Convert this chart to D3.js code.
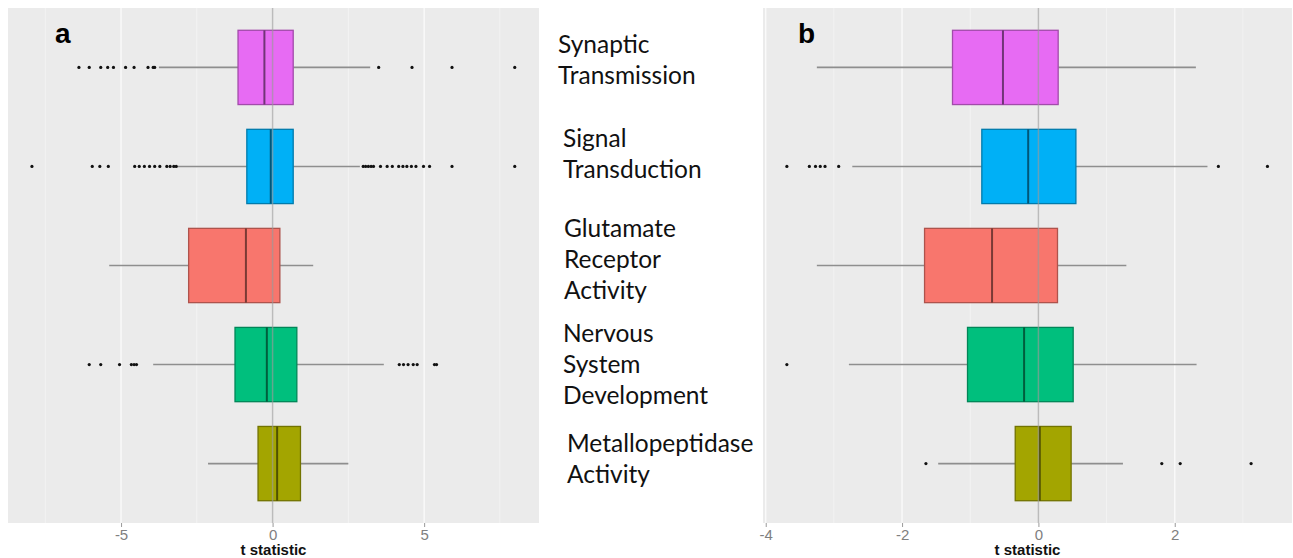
<!DOCTYPE html>
<html>
<head>
<meta charset="utf-8">
<script src="https://cdn.jsdelivr.net/npm/d3@7"></script>
<style>
  html, body { margin: 0; padding: 0; background: #ffffff; }
  svg { display: block; }
</style>
</head>
<body>
<svg id="chart" width="1293" height="558"></svg>
<script>
// ---------------- DATA ----------------
const categories = ["Synaptic Transmission", "Signal Transduction", "Glutamate Receptor Activity",
                    "Nervous System Development", "Metallopeptidase Activity"];
const labelLines = [["Synaptic", "Transmission"], ["Signal", "Transduction"],
                    ["Glutamate", "Receptor", "Activity"], ["Nervous", "System", "Development"],
                    ["Metallopeptidase", "Activity"]];
const fills = ["#E76BF3", "#00B0F6", "#F8766D", "#00BF7D", "#A3A500"];

// Panel a
const aLo  = [-3.75, -3.15, -5.39, -3.94, -2.13];
const aQ1  = [-1.14, -0.85, -2.77, -1.24, -0.48];
const aMed = [-0.27, -0.06, -0.88, -0.19,  0.15];
const aQ3  = [ 0.68,  0.68,  0.24,  0.80,  0.92];
const aHi  = [ 3.22,  2.88,  1.34,  3.67,  2.50];
const aOut = [
  [-6.39, -6.05, -5.67, -5.44, -5.25, -4.85, -4.57, -4.11, -3.94, -3.89, 3.50, 4.60, 5.92, 7.99],
  [-7.94, -5.95, -5.70, -5.42, -4.55, -4.40, -4.23, -4.06, -3.89, -3.72, -3.49, -3.38, -3.26, -3.18,
    2.99, 3.07, 3.16, 3.25, 3.33, 3.56, 3.78, 3.95, 4.16, 4.30, 4.43, 4.58, 4.73, 4.98, 5.18, 5.92, 7.99],
  [],
  [-6.05, -5.67, -5.05, -4.66, -4.57, -4.49, 4.18, 4.32, 4.47, 4.64, 4.77, 5.34, 5.41],
  []
];
const aTicks = [-5, 0, 5];
const aMinor = [-7.5, -2.5, 2.5, 7.5];
const aDomain = [-8.73, 8.79];

// Panel b
const bLo  = [-3.25, -2.73, -3.25, -2.78, -1.47];
const bQ1  = [-1.26, -0.83, -1.67, -1.04, -0.34];
const bMed = [-0.52, -0.15, -0.68, -0.21,  0.02];
const bQ3  = [ 0.29,  0.55,  0.28,  0.51,  0.48];
const bHi  = [ 2.31,  2.48,  1.29,  2.32,  1.24];
const bOut = [
  [],
  [-3.69, -3.36, -3.27, -3.20, -3.13, -2.93, 2.64, 3.36],
  [],
  [-3.69],
  [-1.65, 1.81, 2.08, 3.12]
];
const bTicks = [-4, -2, 0, 2];
const bMinor = [-3, -1, 1, 3];
const bDomain = [-4.04, 3.72];

const panelTags = ["a", "b"];
const axisTitle = "t statistic";

// ---------------- LAYOUT ----------------
const plotTop = 8, plotBottom = 523;
const labelDx = [558, 563, 564, 563, 567];
const labelDy = [1, -4, 2.5, 8.5, 4];
const lineGap = 31;

// ---------------- DRAW ----------------
const svg = d3.select("#chart");

const y = d3.scalePoint().domain(categories).range([plotTop, plotBottom]).padding(0.6);
const boxH = y.step() * 0.75;

function panel(opts) {
  const { x, lo, q1, med, q3, hi, out, ticks, minor, tag } = opts;
  const [x0, x1] = x.range();
  const g = svg.append("g");

  g.append("rect").attr("x", x0).attr("y", plotTop).attr("width", x1 - x0).attr("height", plotBottom - plotTop)
    .attr("fill", "#EBEBEB");

  g.selectAll("line.minor").data(minor).join("line").attr("class", "minor")
    .attr("x1", d => x(d)).attr("x2", d => x(d)).attr("y1", plotTop).attr("y2", plotBottom)
    .attr("stroke", "#F5F5F5").attr("stroke-width", 0.8);
  g.selectAll("line.major").data(ticks).join("line").attr("class", "major")
    .attr("x1", d => x(d)).attr("x2", d => x(d)).attr("y1", plotTop).attr("y2", plotBottom)
    .attr("stroke", "#FAFAFA").attr("stroke-width", 1.4);

  const rows = categories.map((c, i) => ({ c, i }));
  const row = g.selectAll("g.row").data(rows).join("g").attr("class", "row");

  // whiskers
  row.append("line").attr("x1", d => x(lo[d.i])).attr("x2", d => x(q1[d.i]))
    .attr("y1", d => y(d.c)).attr("y2", d => y(d.c)).attr("stroke", "#8E8E8E").attr("stroke-width", 1.6);
  row.append("line").attr("x1", d => x(q3[d.i])).attr("x2", d => x(hi[d.i]))
    .attr("y1", d => y(d.c)).attr("y2", d => y(d.c)).attr("stroke", "#8E8E8E").attr("stroke-width", 1.6);
  // boxes
  row.append("rect").attr("x", d => x(q1[d.i])).attr("width", d => x(q3[d.i]) - x(q1[d.i]))
    .attr("y", d => y(d.c) - boxH / 2).attr("height", boxH)
    .attr("fill", d => fills[d.i])
    .attr("stroke", d => d3.color(fills[d.i]).darker(1.0).formatHex())
    .attr("stroke-width", 1.3);
  // medians
  row.append("line").attr("x1", d => x(med[d.i])).attr("x2", d => x(med[d.i]))
    .attr("y1", d => y(d.c) - boxH / 2).attr("y2", d => y(d.c) + boxH / 2)
    .attr("stroke", d => d3.color(fills[d.i]).darker(2.0).formatHex()).attr("stroke-width", 2);
  // outliers
  row.selectAll("circle").data(d => out[d.i].map(v => ({ v, c: d.c }))).join("circle")
    .attr("cx", d => x(d.v)).attr("cy", d => y(d.c)).attr("r", 1.6).attr("fill", "#111");

  // zero reference line on top
  g.append("line").attr("x1", x(0)).attr("x2", x(0)).attr("y1", plotTop).attr("y2", plotBottom)
    .attr("stroke", "#9A9A9A").attr("stroke-opacity", 0.65).attr("stroke-width", 1.5);

  // axis
  const ax = g.append("g").attr("transform", `translate(0,${plotBottom})`)
    .call(d3.axisBottom(x).tickValues(ticks).tickSize(4).tickPadding(2).tickFormat(d => String(d)));
  ax.select(".domain").remove();
  ax.selectAll(".tick line").attr("stroke", "#9A9A9A");
  ax.selectAll(".tick text").attr("fill", "#808080")
    .style("font-family", "'Liberation Sans', Arial, sans-serif").style("font-size", "15px");

  g.append("text").attr("x", (x0 + x1) / 2).attr("y", 555).attr("text-anchor", "middle")
    .style("font-family", "'Liberation Sans', Arial, sans-serif").style("font-size", "15px")
    .style("font-weight", "bold").attr("fill", "#111").text(axisTitle);

  g.append("text").attr("x", x0 + (tag === "a" ? 47 : 35)).attr("y", 43)
    .style("font-family", "'Liberation Sans', Arial, sans-serif").style("font-size", "28px")
    .style("font-weight", "bold").attr("fill", "#000").text(tag);
}

const xA = d3.scaleLinear().domain(aDomain).range([8, 539]);
const xB = d3.scaleLinear().domain(bDomain).range([763, 1292]);

panel({ x: xA, lo: aLo, q1: aQ1, med: aMed, q3: aQ3, hi: aHi, out: aOut, ticks: aTicks, minor: aMinor, tag: panelTags[0] });
panel({ x: xB, lo: bLo, q1: bQ1, med: bMed, q3: bQ3, hi: bHi, out: bOut, ticks: bTicks, minor: bMinor, tag: panelTags[1] });

// category labels in the middle column
const lg = svg.append("g");
labelLines.forEach((lines, i) => {
  const cy = y(categories[i]);
  const n = lines.length;
  const t = lg.append("text")
    .style("font-family", "Lato, 'Open Sans', sans-serif").style("font-size", "24.5px").attr("fill", "#111");
  lines.forEach((s, k) => {
    t.append("tspan").attr("x", labelDx[i]).attr("y", cy + labelDy[i] + (k - (n - 1) / 2) * lineGap).text(s);
  });
});
</script>
</body>
</html>
